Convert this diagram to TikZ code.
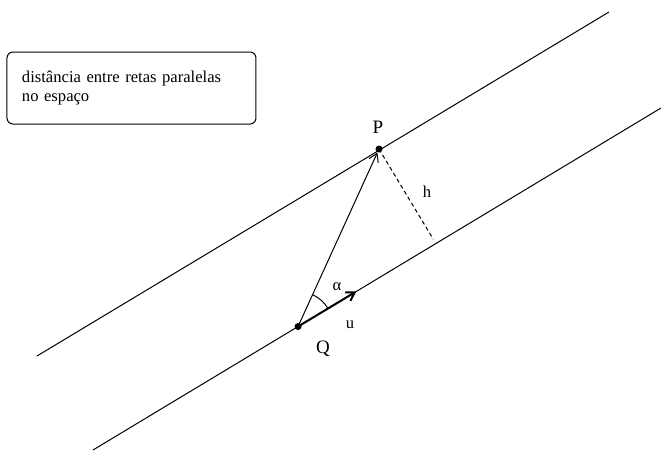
\documentclass[tikz,border=0pt]{standalone}
\usepackage{fontspec}
\setmainfont{Liberation Serif}
\usepackage{tikz}
\usetikzlibrary{arrows.meta,calc,angles}

\begin{document}
\begin{tikzpicture}[
  x=0.5pt, y=-0.5pt,
  reta/.style={line width=0.5pt},
  ponto/.style={circle, fill, inner sep=0pt, minimum size=3.5pt},
  rotulo/.style={font=\fontsize{9.5}{11}\selectfont, inner sep=1pt},
  miudo/.style={font=\fontsize{8.3}{10}\selectfont, inner sep=1pt},
  caixa/.style={draw, line width=0.5pt, rounded corners=3pt, align=left, text width=109.5pt, inner xsep=7.5pt, minimum height=36pt, font=\fontsize{8.3}{9.3}\selectfont}
]
\useasboundingbox (0,0) rectangle (661,451);
% enunciado
\node[caixa] (titulo) at (131.5,88) {distância entre retas paralelas\\ no espaço};
% retas
\coordinate (r1a) at (37,356);
\coordinate (r1b) at (609,12);
\coordinate (r2a) at (93,450);
\coordinate (r2b) at (661,108);
\draw[reta] (r1a) -- (r1b);
\draw[reta] (r2a) -- (r2b);
% pontos
\node[ponto] (P) at (379,149) {};
\node[ponto] (Q) at ($(r2a)!0.361!(r2b)$) {};
\coordinate (u) at ($(Q.center)!34pt!(r2b)$);
\coordinate (H) at ($(r2a)!(P)!(r2b)$);
\draw[reta, -{Straight Barb[length=4pt,width=5pt]}] (Q.center) -- (P);
\draw[line width=1pt, -{Straight Barb[length=4pt,width=5pt]}] (Q.center) -- (u);
\draw[reta, dashed, dash pattern=on 2pt off 1.5pt, shorten >=2.5pt] (P.center) -- (H);
\pic[draw, line width=0.5pt, angle radius=17.5pt] {angle=u--Q--P};
% rotulos
\node[rotulo] (lP) at (378,127) {P};
\node[rotulo] (lQ) at (323,349) {Q};
\node[miudo] (lu) at (350,325) {u};
\node[miudo] (la) at (337,287) {α};
\node[miudo] (lh) at (427,192) {h};
\end{tikzpicture}
\end{document}
